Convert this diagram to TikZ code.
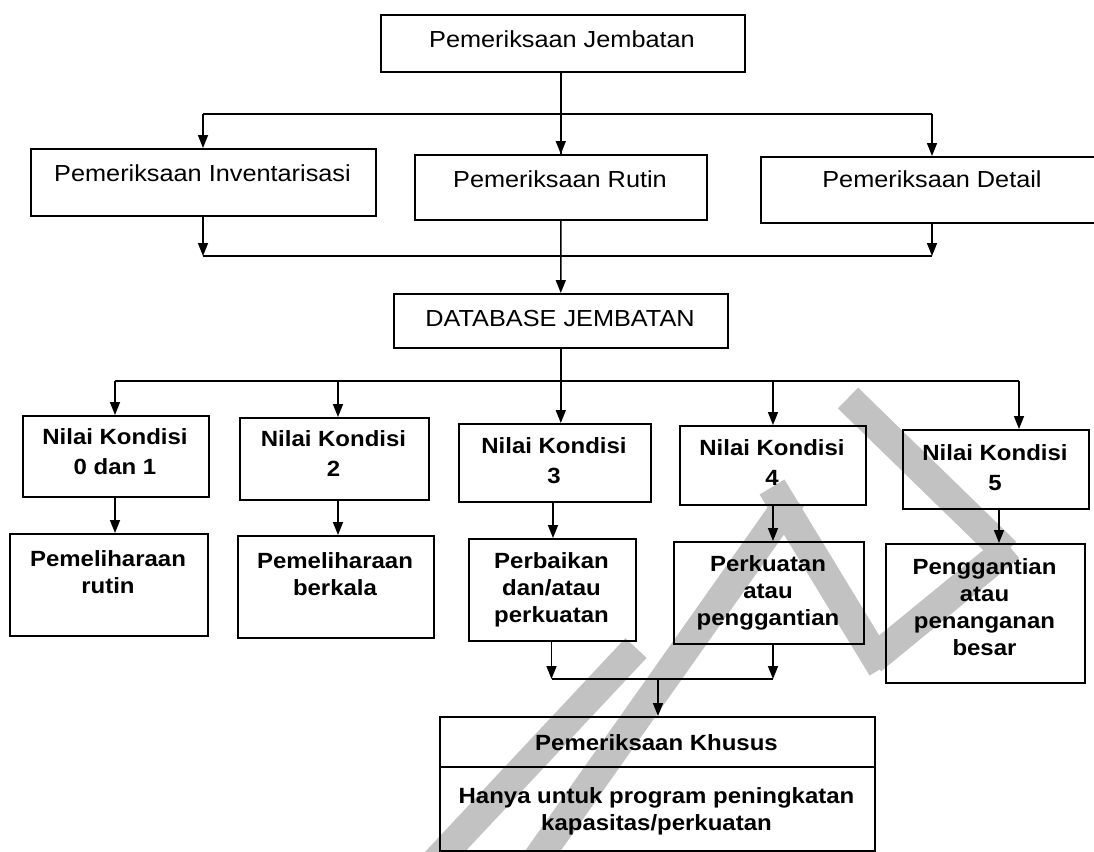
\documentclass[tikz,border=0pt]{standalone}
\usepackage{fontspec}
\setmainfont{Liberation Sans}[FakeStretch=1.09]
\usetikzlibrary{arrows.meta}
\tikzset{
  box/.style={draw, line width=1.6bp, minimum width=#1, inner sep=0pt, anchor=north west},
  up/.style={font=\fontsize{23.2bp}{27bp}\selectfont, align=center, anchor=base, inner sep=0pt},
  lo/.style={font=\fontsize{22bp}{29.5bp}\selectfont\bfseries, align=center, anchor=base, inner sep=0pt},
  lo2/.style={font=\fontsize{22bp}{27bp}\selectfont\bfseries, align=center, anchor=base, inner sep=0pt},
  wire/.style={line width=1.6bp},
  arr/.style={line width=1.6bp, -{Triangle[width=10bp,length=13bp]}},
  wm/.style={line width=29bp, color=black!24},
}
\begin{document}
\begin{tikzpicture}[x=1bp,y=-1bp]
\useasboundingbox (0,0) rectangle (1094,852);
\clip (0,0) rectangle (1094,852);
% watermark
\draw[wm] (428,870) -- (636,648);
\draw[wm] (535,862) -- (792,498);
\draw[wm] (772,487) -- (882,668);
\draw[wm] (848,398) -- (1006,552);
\draw[wm] (872,660) -- (1010,547);
% row 1
\node[box=364bp, minimum height=57bp] (top) at (380,14) {};
\node[up] (ttop) at (562,47.5) {Pemeriksaan Jembatan};
% row 2
\node[box=345bp, minimum height=67bp] (inv) at (30,148) {};
\node[box=292bp, minimum height=65bp] (rut) at (414,154) {};
\node[box=344bp, minimum height=66bp] (det) at (760,156) {};
\node[up] (tinv) at (202.5,181) {Pemeriksaan Inventarisasi};
\node[up] (trut) at (560,187) {Pemeriksaan Rutin};
\node[up] (tdet) at (932,187) {Pemeriksaan Detail};
% database
\node[box=334bp, minimum height=54bp] (db) at (393,293) {};
\node[up] (tdb) at (560,326.5) {DATABASE JEMBATAN};
% row 3
\node[box=186bp, minimum height=81bp] (nk1) at (22,415) {};
\node[box=189bp, minimum height=82bp] (nk2) at (239,417) {};
\node[box=192bp, minimum height=78bp] (nk3) at (458,423) {};
\node[box=186bp, minimum height=79bp] (nk4) at (679,425) {};
\node[box=186bp, minimum height=79bp] (nk5) at (902,429) {};
\node[lo] (tnk1) at (115,474) {Nilai Kondisi\\0 dan 1};
\node[lo] (tnk2) at (333.5,476) {Nilai Kondisi\\2};
\node[lo] (tnk3) at (554,483) {Nilai Kondisi\\3};
\node[lo] (tnk4) at (772,485) {Nilai Kondisi\\4};
\node[lo] (tnk5) at (995,490) {Nilai Kondisi\\5};
% row 4
\node[box=198bp, minimum height=102bp] (r1) at (9,533) {};
\node[box=196bp, minimum height=102bp] (r2) at (237,535) {};
\node[box=167bp, minimum height=102bp] (r3) at (468,538) {};
\node[box=190bp, minimum height=102bp] (r4) at (673,541) {};
\node[box=199bp, minimum height=139bp] (r5) at (885,543) {};
\node[lo2] (tr1) at (108,593) {Pemeliharaan\\rutin};
\node[lo2] (tr2) at (335,595) {Pemeliharaan\\berkala};
\node[lo2] (tr3) at (551.5,622) {Perbaikan\\dan/atau\\perkuatan};
\node[lo2] (tr4) at (768,625) {Perkuatan\\atau\\penggantian};
\node[lo2] (tr5) at (984.5,655) {Penggantian\\atau\\penanganan\\besar};
% special box
\node[box=435bp, minimum height=50bp] (kh) at (439,716) {};
\node[box=435bp, minimum height=84bp] (kh2) at (439,766) {};
\node[lo2] (tkh) at (656.5,750) {Pemeriksaan Khusus};
\node[lo2] (tkh2) at (656.5,830) {Hanya untuk program peningkatan\\kapasitas/perkuatan};
% buses
\coordinate (b1l) at (203,114);
\coordinate (b1r) at (932,114);
\coordinate (b2l) at (203,256);
\coordinate (b2r) at (932,256);
\coordinate (b3l) at (115,381);
\coordinate (b3r) at (1019,381);
\coordinate (b4l) at (551.5,679);
\coordinate (b4r) at (773,679);
% connectors level 1
\draw[wire] (top.south -| rut.north) -- (rut.north);
\draw[arr] (b1l -| rut.north) -- (rut.north);
\draw[wire] (b1l) -- (b1r);
\draw[arr] (b1l) -- (b1l |- inv.north);
\draw[arr] (b1r) -- (b1r |- det.north);
% level 2
\draw[arr] (inv.south -| b2l) -- (b2l);
\draw[arr] (det.south -| b2r) -- (b2r);
\draw[wire] (b2l) -- (b2r);
\draw[arr] (rut.south) -- (db.north);
% level 3
\draw[wire] (db.south) -- (db.south |- b3l);
\draw[wire] (b3l) -- (b3r);
\draw[arr] (b3l) -- (b3l |- nk1.north);
\draw[arr] (b3l -| 338,0) -- (338,417);
\draw[arr] (db.south |- b3l) -- (db.south |- nk3.north);
\draw[arr] (b3l -| 773,0) -- (773,425);
\draw[arr] (b3r) -- (b3r |- nk5.north);
% level 4
\draw[arr] (nk1.south -| 115,0) -- (115,533);
\draw[arr] (nk2.south -| 338,0) -- (338,535);
\draw[arr] (nk3.south -| 553,0) -- (553,538);
\draw[arr] (nk4.south -| 773,0) -- (773,541);
\draw[arr] (nk5.south -| 999,0) -- (999,543);
% level 5
\draw[arr] (r3.south -| b4l) -- (b4l);
\draw[arr] (r4.south -| b4r) -- (b4r);
\draw[wire] (b4l) -- (b4r);
\draw[arr] (658,679) -- (kh.north -| 658,0);
\end{tikzpicture}
\end{document}
